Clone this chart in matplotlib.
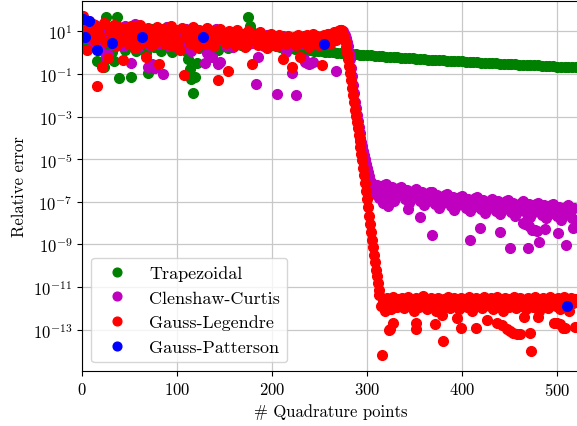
import numpy as np
import matplotlib
matplotlib.use('Agg')
import matplotlib.pyplot as plt

# LaTeX-like look
plt.rcParams['font.family'] = 'serif'
plt.rcParams['font.serif'] = ['cmr10']
plt.rcParams['mathtext.fontset'] = 'cm'
plt.rcParams['axes.formatter.use_mathtext'] = True
plt.rcParams['font.size'] = 12

# Data (log10 of relative error)

# Trapezoidal: odd n from 1 to 179, then every 4th n from 184 to 520
trap_left = [0.9, 0.6, 0.45, 1.2, 0.8, 0.3, 1.0, -0.41, 0.55, 0.2,
             0.9, -0.69, 1.66, 0.35, 1.1, 0.05, -0.41, 0.7, 1.66, -1.21,
             0.5, 0.95, 0.15, 0.6, 1.2, -1.12, 0.4, 0.85, 0.1, 0.65,
             1.05, 0.3, 0.75, 0.0, -0.93, 0.55, 1.1, 0.25, 0.8, 0.45,
             1.0, 0.1, 0.6, 0.9, 1.19, 0.35, 0.7, 0.05, 0.5, 0.85,
             0.2, 0.6, 0.95, 0.3, 0.1, -0.3, -0.75, -1.25, -1.87, -1.15,
             -0.5, 0.2, 0.55, 0.8, 0.35, 0.65, 1.0, 0.25, 0.7, 0.45,
             0.9, 0.15, 0.6, 0.85, 0.4, 0.7, 0.2, 0.55, 0.8, 0.3,
             0.65, 0.45, 0.75, 0.35, 0.6, 0.5, 0.9, 1.66, 1.24, 0.95]
trap_tail = [0.72, 0.6, 0.5, 0.42, 0.36, 0.31, 0.27, 0.24, 0.215, 0.2,
             0.18, 0.16, 0.14, 0.125, 0.11, 0.09, 0.075, 0.06, 0.04, 0.03,
             0.01, -0.0, -0.02, -0.03, -0.05, -0.06, -0.08, -0.09, -0.11, -0.12,
             -0.13, -0.15, -0.16, -0.17, -0.19, -0.2, -0.21, -0.22, -0.24, -0.25,
             -0.26, -0.27, -0.28, -0.29, -0.31, -0.32, -0.33, -0.34, -0.35, -0.36,
             -0.37, -0.38, -0.39, -0.40, -0.41, -0.42, -0.43, -0.44, -0.45, -0.46,
             -0.47, -0.48, -0.49, -0.50, -0.51, -0.52, -0.53, -0.54, -0.55, -0.56,
             -0.56, -0.57, -0.58, -0.59, -0.60, -0.61, -0.62, -0.63, -0.64, -0.65,
             -0.66, -0.66, -0.67, -0.68, -0.68]

# Clenshaw-Curtis: odd n from 1 to 279, drop from 276, band every 2nd n from 304
cc_left = [1.2, 0.9, 1.4, 0.7, 1.1, 0.5, 1.3, 0.8, 0.3, 0.15,
           1.0, 0.6, -0.22, -0.08, 0.9, 1.2, 0.4, 0.8, 1.1, 0.5,
           0.95, 0.3, 1.25, 0.7, 0.45, -0.46, 1.0, 1.33, 0.6, 0.25,
           0.85, 1.15, 0.5, 0.75, -0.65, 0.35, -0.55, 0.9, -0.7, 1.1,
           0.4, 0.65, -1.02, 0.8, 1.2, 0.3, 0.7, 0.95, 0.45, 1.05,
           0.2, 0.6, 0.85, 0.35, 1.1, 0.5, 0.75, 0.1, 0.55, 0.9,
           0.3, 0.65, 1.0, 0.4, -0.46, 0.0, 0.7, 1.0, -0.2, 0.45,
           1.09, -0.55, -0.45, 0.6, 0.85, 0.3, 0.7, 0.5, 0.95, 0.25,
           0.65, 0.8, 0.4, 0.7, 0.55, 0.9, 0.35, 0.6, 0.75, 0.45,
           0.65, -1.49, -0.18, 0.5, 0.75, 0.3, 0.6, 0.85, 0.4, 0.65,
           0.5, 0.7, -1.96, 0.35, 0.6, 0.8, 0.45, 0.01, 0.65, 0.3,
           -0.95, 0.55, -1.98, 0.7, 0.4, 0.6, -0.3, -0.42, -0.48, -0.55,
           -0.5, -0.45, 0.5, 0.75, 0.35, 0.65, 0.8, 0.5, 0.7, 0.9,
           0.45, 0.75, 0.6, -0.84, 0.8, 0.9, 0.95, 1.0, 0.85, 0.5]
cc_drop_n = [276, 278, 280, 281, 282, 283, 284, 285, 286, 287, 288, 289, 290,
             291, 292, 293, 294, 295, 296, 297, 298, 299, 300, 301, 302, 303]
cc_drop = [0.9, 0.7, 0.3, 0.0, -0.3, -0.7, -1.1, -1.5, -1.9, -2.3, -2.6, -2.9, -3.2,
           -3.5, -3.75, -4.0, -4.2, -4.4, -4.6, -4.8, -5.0, -5.2, -5.4, -5.6, -5.8, -6.0]
cc_band = [-6.07, -6.38, -6.65, -6.21, -6.83, -6.34, -6.60, -6.22, -6.18, -6.50,
           -6.76, -6.32, -6.94, -6.45, -6.72, -6.33, -6.29, -6.61, -6.87, -6.44,
           -7.05, -6.56, -6.83, -6.44, -6.41, -6.72, -6.98, -6.55, -7.16, -6.68,
           -6.94, -6.55, -6.52, -6.83, -7.10, -6.66, -7.27, -6.79, -7.05, -6.66,
           -6.62, -6.94, -7.20, -6.76, -7.38, -6.89, -7.15, -6.76, -6.72, -7.03,
           -7.29, -6.85, -7.45, -6.96, -7.22, -6.83, -6.79, -7.10, -7.35, -6.91,
           -7.52, -7.03, -7.29, -6.90, -6.85, -7.16, -7.42, -6.98, -7.59, -7.10,
           -7.35, -6.96, -6.92, -7.23, -7.49, -7.04, -7.65, -7.16, -7.42, -7.03,
           -6.98, -7.29, -7.55, -7.11, -7.72, -7.22, -7.48, -7.09, -7.05, -7.36,
           -7.61, -7.17, -7.78, -7.29, -7.55, -7.15, -7.11, -7.42, -7.68, -7.24,
           -7.84, -7.35, -7.61, -7.22, -7.17, -7.48, -7.74, -7.29, -7.90]
cc_out_n = [317, 322, 343, 356, 368, 408, 419, 440, 451, 464, 466, 469, 470,
            474, 477, 479, 481, 487, 501, 509, 517]
cc_out = [-7.05, -7.19, -7.33, -7.71, -8.55, -8.79, -8.22, -8.41, -9.16, -8.0, -8.05,
          -9.16, -8.15, -8.3, -8.32, -8.35, -8.88, -8.27, -8.46, -9.02, -8.22]

# Gauss-Legendre: odd n from 1 to 271, every n in the drop 272-312, band every 2nd n from 313
gl_left = [1.7, 1.2, 0.15, 1.5, 0.9, 1.35, 0.6, -1.54, 1.1, 0.8,
           -0.67, 1.4, 0.5, -0.25, 1.0, 0.7, 1.3, 0.3, 0.95, 1.2,
           0.55, -0.32, 1.1, 0.75, 0.4, 1.25, 0.85, 0.2, 1.05, 0.6,
           1.3, 0.45, 0.9, -0.22, 1.15, 0.7, 0.35, 1.0, 0.5, 1.2,
           -0.55, 0.8, 1.1, 0.4, 0.95, 0.65, 1.25, 0.3, 0.85, 1.05,
           0.55, 0.15, 1.15, -1.05, 0.75, 1.0, 0.45, 0.9, 1.2, 0.6,
           0.25, 1.05, 0.7, 0.95, 0.4, 1.15, 0.8, 0.55, 1.0, 0.3,
           0.85, -1.26, 1.1, 0.65, 0.9, 0.45, -0.84, 1.0, 0.6, 0.8,
           0.35, 1.05, 0.7, 0.5, 0.9, 0.25, 0.75, 1.0, 0.55, -0.55,
           0.85, 0.6, 0.35, 0.95, 0.7, 0.45, 0.8, 0.2, 0.65, 0.9,
           0.5, 0.75, 0.3, 0.85, 0.6, -0.3, 0.7, 0.4, 0.8, 0.55,
           -0.65, 0.75, 0.35, 0.85, -0.22, 0.6, 0.8, 0.45, 0.85, 0.25,
           0.7, 0.9, 0.5, 0.8, 0.35, 0.75, -0.6, 0.85, 0.55, 0.9,
           0.4, 0.8, 0.95, 0.6, 1.0, 1.05]
gl_drop = [1.08, 1.05, 0.97, 0.85, 0.68, 0.55, 0.28, 0.0, -0.3, -0.62,
           -0.95, -1.3, -1.64, -1.98, -2.33, -2.67, -2.97, -3.26, -3.55, -3.85,
           -4.14, -4.44, -4.73, -5.02, -5.39, -5.76, -6.13, -6.5, -6.88, -7.26,
           -7.64, -8.02, -8.4, -8.78, -9.13, -9.48, -9.83, -10.18, -10.5, -10.82,
           -11.12]
gl_band = [-11.35, -11.9, -11.6, -12.1, -11.5, -11.8, -12.05, -11.45, -11.7, -11.95,
           -11.55, -11.85, -11.5, -12.0, -11.65, -11.45, -11.9, -11.6, -12.1, -11.5,
           -11.75, -11.95, -11.55, -11.4, -11.8, -12.05, -11.6, -11.5, -11.85, -11.65,
           -12.1, -11.5, -11.75, -11.95, -11.55, -11.85, -11.45, -12.0, -11.7, -11.5,
           -11.9, -11.6, -12.05, -11.5, -11.75, -11.55, -11.95, -11.45, -11.8, -12.1,
           -11.6, -11.5, -11.85, -11.65, -12.0, -11.45, -11.75, -11.55, -11.9, -11.5,
           -12.05, -11.7, -11.45, -11.85, -11.6, -12.1, -11.5, -11.75, -11.95, -11.55,
           -11.8, -11.45, -12.0, -11.65, -11.5, -11.9, -11.6, -12.05, -11.5, -11.75,
           -11.55, -11.95, -11.45, -11.8, -12.1, -11.6, -11.5, -11.85, -11.65, -12.0,
           -11.45, -11.75, -11.55, -11.9, -11.5, -12.05, -11.7, -11.45, -11.85, -11.6,
           -12.1, -11.5, -11.75, -11.55]
gl_out_n = [316, 323, 324, 327, 351, 352, 372, 379, 380, 395, 399, 415, 426, 437,
            442, 447, 451, 454, 458, 461, 465, 472, 473, 480, 497, 500, 503, 506, 508, 519]
gl_out = [-14.2, -13.02, -12.95, -12.69, -12.69, -12.98, -12.74, -12.3, -13.54, -12.46,
          -12.93, -12.93, -12.55, -12.69, -12.79, -12.98, -13.05, -13.16, -13.2, -13.21,
          -12.4, -13.16, -14.0, -12.4, -12.69, -12.7, -12.75, -12.9, -12.93, -12.88]

# Gauss-Patterson nested rules
gp_n = [1, 3, 7, 15, 31, 63, 127, 255, 511]
gp = [1.56, 0.72, 1.47, 0.15, 0.44, 0.76, 0.76, 0.39, -11.9]

# Assemble series
trap_n = np.concatenate([1 + 2 * np.arange(len(trap_left)), 184 + 4 * np.arange(len(trap_tail))])
trap_err = 10.0 ** np.concatenate([trap_left, trap_tail])

cc_n = np.concatenate([1 + 2 * np.arange(len(cc_left)), cc_drop_n,
                       304 + 2 * np.arange(len(cc_band)), cc_out_n])
cc_err = 10.0 ** np.concatenate([cc_left, cc_drop, cc_band, cc_out])

gl_n = np.concatenate([1 + 2 * np.arange(len(gl_left)), 272 + np.arange(len(gl_drop)),
                       313 + 2 * np.arange(len(gl_band)), gl_out_n])
gl_err = 10.0 ** np.concatenate([gl_left, gl_drop, gl_band, gl_out])

gp_err = 10.0 ** np.array(gp)

# Plot setup
fig = plt.figure(figsize=(5.77, 4.27), dpi=100)
ax = fig.add_axes([82.3 / 577, 54.7 / 427, 497.0 / 577, 370.6 / 427])

ms = 7
ax.semilogy(trap_n, trap_err, 'o', color='g', ms=ms, label='Trapezoidal')
ax.semilogy(cc_n, cc_err, 'o', color='m', ms=ms, label='Clenshaw-Curtis')
ax.semilogy(gl_n, gl_err, 'o', color='r', ms=ms, label='Gauss-Legendre')
ax.semilogy(gp_n, gp_err, 'o', color='b', ms=ms, label='Gauss-Patterson')

# Axes and labels
ax.set_xlim(0, 523.5)
ax.set_ylim(10 ** -14.95, 10 ** 2.44)
ax.set_yticks([10.0 ** k for k in range(1, -14, -2)])
ax.yaxis.set_minor_locator(matplotlib.ticker.NullLocator())
ax.set_xticks([0, 100, 200, 300, 400, 500])
ax.grid(True, color='#c8c8c8', linewidth=0.9)
ax.set_axisbelow(True)

ax.set_xlabel('# Quadrature points')
ax.set_ylabel('Relative error')

ax.legend(loc='lower left', numpoints=1, fontsize=13, markerscale=0.9)

plt.savefig('out.png', dpi=100)
